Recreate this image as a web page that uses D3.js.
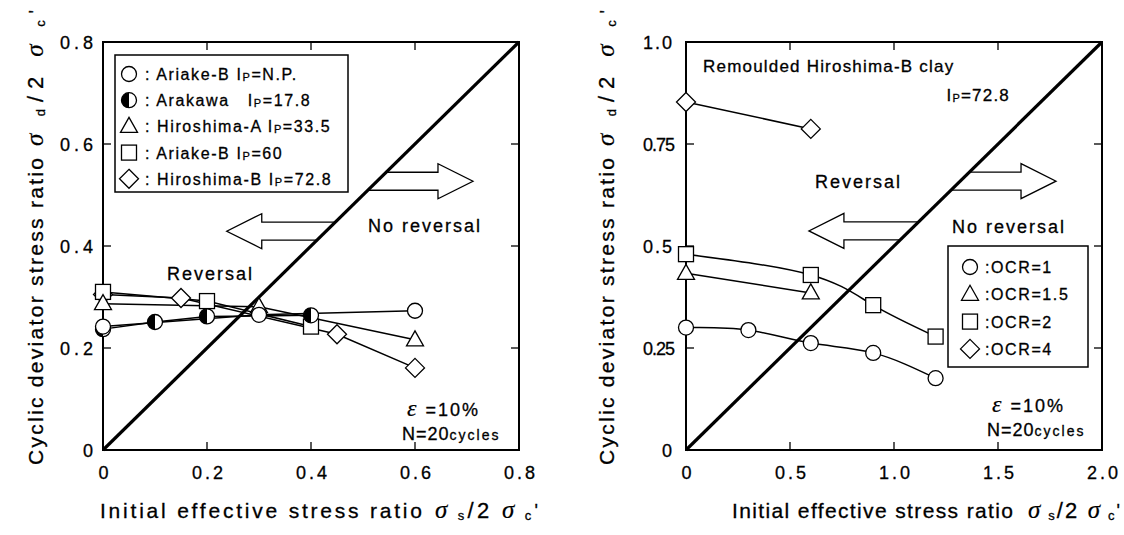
<!DOCTYPE html>
<html>
<head>
<meta charset="utf-8">
<script src="https://cdn.jsdelivr.net/npm/d3@7"></script>
<style>
body { margin: 0; background: #fff; }
svg text { font-family: "Liberation Sans", Arial, sans-serif; fill: #000; stroke: #000; stroke-width: 0.3; white-space: pre; }
svg text .g, svg text.g { font-family: "Liberation Serif", "DejaVu Serif", serif; font-style: italic; stroke-width: 0.2; }
</style>
</head>
<body>
<svg id="chart" width="1124" height="535"></svg>
<script>
// ---- left panel: remoulded clays, OCR = 1 ----
const leftNames = ["Ariake-B ", "Arakawa   ", "Hiroshima-A ", "Ariake-B ", "Hiroshima-B "];
const leftIp = ["N.P.", "17.8", "33.5", "60", "72.8"];
const leftShapes = ["circle", "half", "triangle", "square", "diamond"];
const ariakeNP = [[0, 0.242], [0.3, 0.265], [0.6, 0.273]];
const arakawa = [[0, 0.237], [0.1, 0.251], [0.2, 0.262], [0.4, 0.264]];
const hiroshimaA = [[0, 0.287], [0.3, 0.281], [0.6, 0.216]];
const ariake60 = [[0, 0.310], [0.2, 0.292], [0.4, 0.242]];
const hiroshimaB = [[0, 0.305], [0.15, 0.298], [0.45, 0.227], [0.6, 0.161]];
const leftTicks = [0, 0.2, 0.4, 0.6, 0.8];
const leftTickLabels = ["0", "0.2", "0.4", "0.6", "0.8"];

// ---- right panel: remoulded Hiroshima-B clay, various OCR ----
const rightNames = [":OCR=1", ":OCR=1.5", ":OCR=2", ":OCR=4"];
const rightShapes = ["circle", "triangle", "square", "diamond"];
const ocr1 = [[0, 0.300], [0.3, 0.294], [0.6, 0.262], [0.9, 0.238], [1.2, 0.176]];
const ocr15 = [[0, 0.433], [0.6, 0.385]];
const ocr2 = [[0, 0.480], [0.6, 0.429], [0.9, 0.355], [1.2, 0.278]];
const ocr4 = [[0, 0.853], [0.6, 0.787]];
const rightXTicks = [0, 0.5, 1.0, 1.5, 2.0];
const rightXLabels = ["0", "0.5", "1.0", "1.5", "2.0"];
const rightYTicks = [0, 0.25, 0.5, 0.75, 1.0];
const rightYLabels = ["0", "0.25", "0.5", "0.75", "1.0"];

const svg = d3.select("#chart");

let drawMarker = (g, shape, x, y) => {
    let r = 7.5;
    if (shape === "circle" || shape === "half") {
        g.append("circle").attr("cx", x).attr("cy", y).attr("r", r)
            .attr("fill", "#fff").attr("stroke", "#000").attr("stroke-width", 1.3);
        if (shape === "half") {
            g.append("path")
                .attr("d", `M${x},${y - r}A${r},${r} 0 0,0 ${x},${y + r}Z`)
                .attr("fill", "#000");
        }
    } else if (shape === "square") {
        g.append("rect").attr("x", x - 7.5).attr("y", y - 7.5).attr("width", 15).attr("height", 15)
            .attr("fill", "#fff").attr("stroke", "#000").attr("stroke-width", 1.3);
    } else if (shape === "triangle") {
        g.append("path").attr("d", `M${x},${y - 9}L${x + 8.5},${y + 6}L${x - 8.5},${y + 6}Z`)
            .attr("fill", "#fff").attr("stroke", "#000").attr("stroke-width", 1.3);
    } else if (shape === "diamond") {
        g.append("path").attr("d", `M${x},${y - 9.5}L${x + 9.5},${y}L${x},${y + 9.5}L${x - 9.5},${y}Z`)
            .attr("fill", "#fff").attr("stroke", "#000").attr("stroke-width", 1.3);
    }
}

// sigma ratio label e.g. σd/2σc', spaced out to the width seen in the scan
let sigmaLabel = (t, sub, len) => {
    t.attr("font-size", 22).attr("textLength", len).attr("lengthAdjust", "spacing");
    t.append("tspan").attr("class", "g").attr("font-size", 25).text("σ");
    t.append("tspan").attr("font-size", 13).attr("dy", 2).text(" " + sub);
    t.append("tspan").attr("dy", -2).text("/2");
    t.append("tspan").attr("class", "g").attr("font-size", 25).text(" σ");
    t.append("tspan").attr("font-size", 13).attr("dy", 2).text(" c");
    t.append("tspan").attr("font-size", 18).attr("dy", -3).text("'");
}

let drawPanel = cfg => {
    let x = d3.scaleLinear().domain(cfg.xDomain).range([cfg.left, cfg.left + 416]);
    let y = d3.scaleLinear().domain(cfg.yDomain).range([450, 42]);
    let g = svg.append("g");
    let [X0, X1] = x.range();
    let [Y0, Y1] = y.range();

    // frame
    g.append("rect").attr("x", X0).attr("y", Y1).attr("width", X1 - X0).attr("height", Y0 - Y1)
        .attr("fill", "none").attr("stroke", "#000").attr("stroke-width", 2);

    // inward ticks on all sides
    cfg.xTicks.slice(1, -1).forEach(v => {
        g.append("line").attr("x1", x(v)).attr("x2", x(v)).attr("y1", Y0).attr("y2", Y0 - 8).attr("stroke", "#000").attr("stroke-width", 1.3);
        g.append("line").attr("x1", x(v)).attr("x2", x(v)).attr("y1", Y1).attr("y2", Y1 + 8).attr("stroke", "#000").attr("stroke-width", 1.3);
    });
    cfg.yTicks.slice(1, -1).forEach(v => {
        g.append("line").attr("y1", y(v)).attr("y2", y(v)).attr("x1", X0).attr("x2", X0 + 8).attr("stroke", "#000").attr("stroke-width", 1.3);
        g.append("line").attr("y1", y(v)).attr("y2", y(v)).attr("x1", X1).attr("x2", X1 - 8).attr("stroke", "#000").attr("stroke-width", 1.3);
    });

    // tick labels
    cfg.xTicks.forEach((v, i) => {
        g.append("text").attr("x", x(v) + 2).attr("y", 479).attr("text-anchor", "middle")
            .attr("font-size", 18).attr("letter-spacing", 3).text(cfg.xLabels[i]);
    });
    cfg.yTicks.forEach((v, i) => {
        let lab = cfg.yLabels[i];
        g.append("text").attr("x", X0 - cfg.yLabGap).attr("y", y(v) + 7).attr("text-anchor", "end")
            .attr("font-size", 18).attr("letter-spacing", lab.length > 3 ? -1 : cfg.yLabSpacing).text(lab);
    });

    // diagonal boundary line and the arrows that stand on it
    let diagX = py => x(y.invert(py) / cfg.slope);
    cfg.arrows.forEach(a => {
        let yc = y(a.y), tip = x(a.tip), base = tip - a.dir * 35;
        let yt = yc - 9, yb = yc + 9;
        let pts = [[diagX(yt), yt], [base, yt], [base, yc - 17.5], [tip, yc], [base, yc + 17.5], [base, yb], [diagX(yb), yb]];
        g.append("path").attr("d", "M" + pts.map(p => p.join(",")).join("L") + "Z")
            .attr("fill", "#fff").attr("stroke", "#000").attr("stroke-width", 1.3);
    });
    g.append("line")
        .attr("x1", x(0)).attr("y1", y(0))
        .attr("x2", x(cfg.xDomain[1])).attr("y2", y(cfg.xDomain[1] * cfg.slope))
        .attr("stroke", "#000").attr("stroke-width", 3.2);

    // series
    let line = d3.line().x(d => x(d[0])).y(d => y(d[1])).curve(cfg.curve);
    cfg.series.forEach(s => {
        g.append("path").attr("d", line(s.data)).attr("fill", "none").attr("stroke", "#000").attr("stroke-width", 1.5);
    });
    cfg.series.forEach(s => {
        s.data.forEach(d => drawMarker(g, s.shape, x(d[0]), y(d[1])));
    });

    // axis titles
    g.append("text").attr("x", cfg.xTitle.x).attr("y", 518).attr("font-size", 21)
        .attr("textLength", cfg.xTitle.len).attr("lengthAdjust", "spacing")
        .text("Initial effective stress ratio");
    sigmaLabel(g.append("text").attr("x", cfg.xTitle.sx).attr("y", 518), "s", cfg.xTitle.slen);

    g.append("text").attr("transform", `translate(${cfg.yTitle.x},465) rotate(-90)`).attr("font-size", 21)
        .attr("textLength", 307).attr("lengthAdjust", "spacing")
        .text("Cyclic deviator stress ratio");
    sigmaLabel(g.append("text").attr("transform", `translate(${cfg.yTitle.x},146) rotate(-90)`), "d", 136);

    // strain / cycles note
    let n1 = g.append("text").attr("x", cfg.note.x).attr("y", cfg.note.y).attr("font-size", 18).attr("letter-spacing", 2);
    n1.append("tspan").attr("class", "g").attr("font-size", 24).text("ε");
    n1.append("tspan").text(" =10%");
    let n2 = g.append("text").attr("x", cfg.note.x - 5).attr("y", cfg.note.y + 24).attr("font-size", 18).attr("letter-spacing", 1);
    n2.append("tspan").text("N=20");
    n2.append("tspan").attr("font-size", 14).attr("letter-spacing", 2).text("cycles");

    return {g, x, y};
}

// ---- left panel ----
let L = drawPanel({
    left: 103, xDomain: [0, 0.8], yDomain: [0, 0.8], slope: 1,
    xTicks: leftTicks, xLabels: leftTickLabels, yTicks: leftTicks, yLabels: leftTickLabels,
    yLabGap: 6, yLabSpacing: 4,
    curve: d3.curveLinear,
    series: [
        {data: hiroshimaB, shape: "diamond"},
        {data: ariake60, shape: "square"},
        {data: hiroshimaA, shape: "triangle"},
        {data: arakawa, shape: "half"},
        {data: ariakeNP, shape: "circle"}
    ],
    arrows: [{dir: 1, y: 0.527, tip: 0.7115}, {dir: -1, y: 0.429, tip: 0.238}],
    xTitle: {x: 100, len: 322, sx: 435, slen: 103},
    yTitle: {x: 43},
    note: {x: 407, y: 416}
});

L.g.append("rect").attr("x", 115).attr("y", 55).attr("width", 233).attr("height", 137)
    .attr("fill", "#fff").attr("stroke", "#000").attr("stroke-width", 1.5);
leftNames.forEach((n, i) => {
    let cy = 74 + i * 26.2;
    drawMarker(L.g, leftShapes[i], 129, cy);
    let t = L.g.append("text").attr("x", 145).attr("y", cy + 6).attr("font-size", 16).attr("letter-spacing", 1.6);
    t.append("tspan").text(": " + n + "I");
    t.append("tspan").attr("font-size", 11).attr("dy", 1).text("P");
    t.append("tspan").attr("dy", -1).text("=" + leftIp[i]);
});
L.g.append("text").attr("x", 368).attr("y", 232).attr("font-size", 18).attr("letter-spacing", 2).text("No reversal");
L.g.append("text").attr("x", 167).attr("y", 280).attr("font-size", 18).attr("letter-spacing", 2).text("Reversal");

// ---- right panel ----
let R = drawPanel({
    left: 686, xDomain: [0, 2.0], yDomain: [0, 1.0], slope: 0.5,
    xTicks: rightXTicks, xLabels: rightXLabels, yTicks: rightYTicks, yLabels: rightYLabels,
    yLabGap: 12, yLabSpacing: 2,
    curve: d3.curveNatural,
    series: [
        {data: ocr4, shape: "diamond"},
        {data: ocr2, shape: "square"},
        {data: ocr15, shape: "triangle"},
        {data: ocr1, shape: "circle"}
    ],
    arrows: [{dir: 1, y: 0.659, tip: 1.779}, {dir: -1, y: 0.537, tip: 0.591}],
    xTitle: {x: 732, len: 281, sx: 1028, slen: 92},
    yTitle: {x: 614},
    note: {x: 992, y: 412}
});

R.g.append("rect").attr("x", 948).attr("y", 246).attr("width", 140).attr("height", 121)
    .attr("fill", "#fff").attr("stroke", "#000").attr("stroke-width", 1.5);
rightNames.forEach((n, i) => {
    let cy = 267 + i * 27.3;
    drawMarker(R.g, rightShapes[i], 970, cy);
    R.g.append("text").attr("x", 985).attr("y", cy + 6).attr("font-size", 16).attr("letter-spacing", 1.6).text(n);
});
R.g.append("text").attr("x", 703).attr("y", 72).attr("font-size", 17).attr("letter-spacing", 1.2).text("Remoulded Hiroshima-B clay");
let rip = R.g.append("text").attr("x", 1010).attr("y", 101).attr("text-anchor", "end").attr("font-size", 17).attr("letter-spacing", 1.2);
rip.append("tspan").text("I");
rip.append("tspan").attr("font-size", 11).attr("dy", 1).text("P");
rip.append("tspan").attr("dy", -1).text("=72.8");
R.g.append("text").attr("x", 815).attr("y", 188).attr("font-size", 18).attr("letter-spacing", 2).text("Reversal");
R.g.append("text").attr("x", 952).attr("y", 233).attr("font-size", 18).attr("letter-spacing", 2).text("No reversal");
</script>
</body>
</html>
